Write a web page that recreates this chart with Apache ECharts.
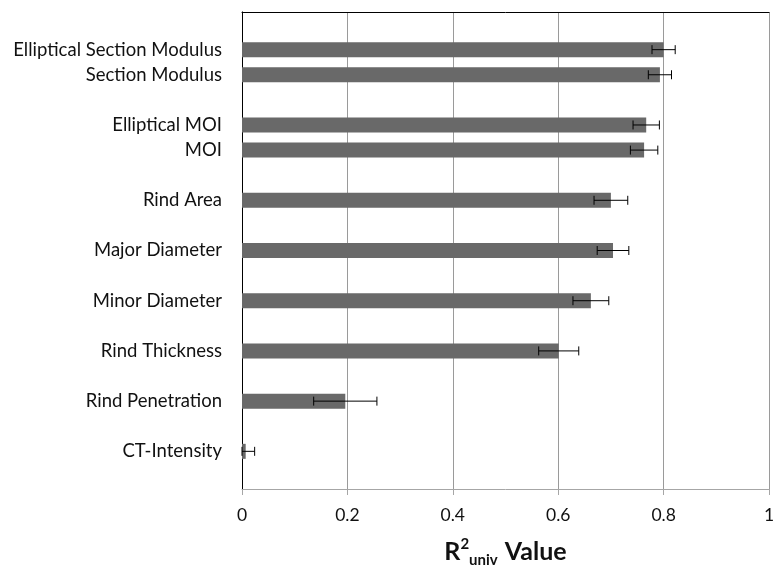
<!DOCTYPE html>
<html>
<head>
<meta charset="utf-8">
<script src="https://cdn.jsdelivr.net/npm/echarts@6/dist/echarts.min.js"></script>
<style>
  html, body { margin: 0; padding: 0; background: #fff; }
  #chart { width: 774px; height: 565px; }
</style>
</head>
<body>
<div id="chart"></div>
<script>
// Predictors, grouped; a blank row separates the groups.
var groups = [
  ['Elliptical Section Modulus', 'Section Modulus'],
  ['Elliptical MOI', 'MOI'],
  ['Rind Area'],
  ['Major Diameter'],
  ['Minor Diameter'],
  ['Rind Thickness'],
  ['Rind Penetration'],
  ['CT-Intensity']
];
// Univariate R² per predictor (same order as the groups, flattened).
var r2Values = [0.800, 0.793, 0.767, 0.763, 0.700, 0.704, 0.662, 0.601, 0.196, 0.007];
// Half-width of the error bar per predictor.
var r2Errors = [0.022, 0.022, 0.025, 0.026, 0.032, 0.030, 0.034, 0.038, 0.060, 0.017];
var xTicks = [0, 0.2, 0.4, 0.6, 0.8, 1];

// Build the category axis with spacer rows between groups and at both ends.
var axisRows = [''];
var barData = ['-'];
var errData = [];
var k = 0;
groups.forEach(function (g, gi) {
  if (gi > 0) { axisRows.push(''); barData.push('-'); }
  g.forEach(function (name) {
    var row = axisRows.length;
    axisRows.push(name);
    barData.push(r2Values[k]);
    errData.push([Math.max(0, r2Values[k] - r2Errors[k]), r2Values[k] + r2Errors[k], row]);
    k++;
  });
});
axisRows.push('');
barData.push('-');

var font = 'Lato, "Open Sans", sans-serif';

var chart = echarts.init(document.getElementById('chart'), null, { renderer: 'canvas' });
chart.setOption({
  animation: false,
  backgroundColor: '#ffffff',
  grid: { left: 242, right: 5, top: 12, bottom: 76, containLabel: false, outerBoundsMode: 'none' },
  xAxis: [{
    type: 'value',
    min: xTicks[0],
    max: xTicks[xTicks.length - 1],
    interval: 0.2,
    position: 'bottom',
    axisLine: { show: true, lineStyle: { color: '#a6a6a6', width: 1 } },
    axisTick: { show: true, length: 6, lineStyle: { color: '#a6a6a6' } },
    axisLabel: {
      color: '#111', fontSize: 17.5, fontFamily: font, margin: 17,
      formatter: function (v) { return String(Math.round(v * 10) / 10); }
    },
    splitLine: { show: true, lineStyle: { color: '#9a9a9a', width: 1 } },
    name: '{r|R}{sup|2}{sub|univ}{r| Value}',
    nameLocation: 'middle',
    nameGap: 47,
    nameTextStyle: {
      rich: {
        r: { fontSize: 25, fontWeight: 'bold', fontFamily: font, color: '#111', lineHeight: 32, verticalAlign: 'middle' },
        sup: { fontSize: 15, fontWeight: 'bold', fontFamily: font, color: '#111', lineHeight: 32, verticalAlign: 'top', padding: [1, 0, 0, 0] },
        sub: { fontSize: 15, fontWeight: 'bold', fontFamily: font, color: '#111', lineHeight: 32, verticalAlign: 'bottom', padding: [0, 1, 0, 0] }
      }
    }
  }, {
    type: 'value',
    position: 'top',
    min: 0, max: 1,
    axisLine: { show: true, lineStyle: { color: '#000', width: 1 } },
    axisTick: { show: false },
    axisLabel: { show: false },
    splitLine: { show: false }
  }],
  yAxis: [{
    type: 'category',
    data: axisRows,
    inverse: true,
    axisLine: { show: true, lineStyle: { color: '#7f7f7f', width: 1 } },
    axisTick: { show: false },
    axisLabel: { color: '#111', fontSize: 18.5, fontFamily: font, margin: 20, interval: 0 },
    splitLine: { show: false }
  }, {
    type: 'value',
    position: 'right',
    min: 0, max: 1,
    axisLine: { show: true, lineStyle: { color: '#000', width: 1 } },
    axisTick: { show: false },
    axisLabel: { show: false },
    splitLine: { show: false }
  }],
  series: [{
    type: 'bar',
    xAxisIndex: 0,
    yAxisIndex: 0,
    data: barData,
    barWidth: 15,
    itemStyle: { color: '#696969' },
    silent: true
  }, {
    type: 'custom',
    xAxisIndex: 0,
    yAxisIndex: 0,
    data: errData,
    encode: { x: [0, 1], y: 2 },
    z: 5,
    renderItem: function (params, api) {
      var lo = api.coord([api.value(0), api.value(2)]);
      var hi = api.coord([api.value(1), api.value(2)]);
      var h = 4.5;
      var style = { stroke: '#000', lineWidth: 1, fill: null };
      return {
        type: 'group',
        children: [
          { type: 'line', shape: { x1: lo[0], y1: lo[1], x2: hi[0], y2: hi[1] }, style: style },
          { type: 'line', shape: { x1: lo[0], y1: lo[1] - h, x2: lo[0], y2: lo[1] + h }, style: style },
          { type: 'line', shape: { x1: hi[0], y1: hi[1] - h, x2: hi[0], y2: hi[1] + h }, style: style }
        ]
      };
    },
    silent: true
  }]
});
</script>
</body>
</html>
